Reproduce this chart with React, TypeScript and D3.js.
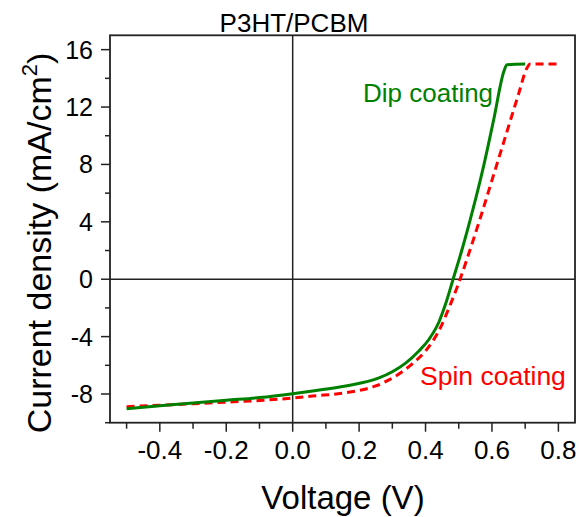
import React from 'react';
import * as d3 from 'd3';

// J-V curves (voltage in V, current density in mA/cm2)
const dipVoltage = [-0.5, -0.4, -0.3, -0.2, -0.1, 0.0, 0.06, 0.16, 0.26, 0.3, 0.34, 0.38, 0.41, 0.44, 0.46, 0.483, 0.509, 0.534, 0.552, 0.575, 0.605, 0.636, 0.645, 0.7];
const dipCurrent = [-9.02, -8.82, -8.62, -8.43, -8.25, -7.98, -7.79, -7.44, -6.88, -6.45, -5.85, -5.0, -4.2, -3.0, -1.75, 0.0, 2.0, 4.1, 5.7, 7.9, 11.1, 14.5, 14.95, 15.0];

const spinVoltage = [-0.5, -0.4, -0.3, -0.2, -0.1, 0.0, 0.06, 0.16, 0.25, 0.31, 0.36, 0.4, 0.44, 0.475, 0.504, 0.529, 0.564, 0.6, 0.64, 0.68, 0.705, 0.715, 0.8];
const spinCurrent = [-8.88, -8.78, -8.68, -8.57, -8.45, -8.28, -8.14, -7.91, -7.44, -6.75, -5.9, -5.0, -3.6, -1.75, 0.0, 1.7, 4.2, 6.9, 9.9, 12.9, 14.7, 15.0, 15.0];

const xMajorTicks = [-0.4, -0.2, 0.0, 0.2, 0.4, 0.6, 0.8];
const xMinorTicks = [-0.5, -0.3, -0.1, 0.1, 0.3, 0.5, 0.7];
const yMajorTicks = [-8, -4, 0, 4, 8, 12, 16];
const yMinorTicks = [-10, -6, -2, 2, 6, 10, 14];

const font = '"Liberation Sans", Arial, sans-serif';
const W = 579;
const H = 517;
const plot = { left: 110, right: 575, top: 35.3, bottom: 422.7 };

export default function App() {
  const x = d3.scaleLinear().domain([-0.55, 0.85]).range([plot.left, plot.right]);
  const y = d3.scaleLinear().domain([-10, 17]).range([plot.bottom, plot.top]);

  const line = d3
    .line<[number, number]>()
    .x((d) => x(d[0]))
    .y((d) => y(d[1]))
    .curve(d3.curveMonotoneX);

  const dip = dipVoltage.map((v, i) => [v, dipCurrent[i]] as [number, number]);
  const spin = spinVoltage.map((v, i) => [v, spinCurrent[i]] as [number, number]);

  const fmtX = (v: number) => v.toFixed(1);

  return (
    <>
      <style>{`body{margin:0}`}</style>
      <svg width={W} height={H} style={{ display: 'block', background: '#fff' }} fontFamily={font}>
        <text x={294} y={32} textAnchor="middle" fontSize={26} fill="#000">
          P3HT/PCBM
        </text>

        {/* zero lines */}
        <line x1={x(0)} x2={x(0)} y1={plot.top} y2={plot.bottom} stroke="#222" strokeWidth={1.5} />
        <line x1={plot.left} x2={plot.right} y1={y(0)} y2={y(0)} stroke="#222" strokeWidth={1.5} />

        {/* curves */}
        <path d={line(spin) ?? ''} fill="none" stroke="#ff0000" strokeWidth={3} strokeDasharray="8,5" />
        <path d={line(dip) ?? ''} fill="none" stroke="#008000" strokeWidth={3} />

        <text x={363} y={101.7} fontSize={26} fill="#008000">Dip coating</text>
        <text x={420} y={385} fontSize={26.5} fill="#ff0000">Spin coating</text>

        {/* frame */}
        <rect
          x={plot.left}
          y={plot.top}
          width={plot.right - plot.left}
          height={plot.bottom - plot.top}
          fill="none"
          stroke="#222"
          strokeWidth={1.8}
        />

        {/* x ticks */}
        {xMajorTicks.map((t) => (
          <g key={'xM' + t}>
            <line x1={x(t)} x2={x(t)} y1={plot.bottom} y2={plot.bottom + 9} stroke="#222" strokeWidth={1.5} />
            <text x={x(t)} y={459} textAnchor="middle" fontSize={26} fill="#000">
              {fmtX(t)}
            </text>
          </g>
        ))}
        {xMinorTicks.map((t) => (
          <line key={'xm' + t} x1={x(t)} x2={x(t)} y1={plot.bottom} y2={plot.bottom + 6} stroke="#222" strokeWidth={1.5} />
        ))}

        {/* y ticks */}
        {yMajorTicks.map((t) => (
          <g key={'yM' + t}>
            <line x1={plot.left - 9} x2={plot.left} y1={y(t)} y2={y(t)} stroke="#222" strokeWidth={1.5} />
            <text x={93} y={y(t)} dy="0.36em" textAnchor="end" fontSize={25} fill="#000">
              {t}
            </text>
          </g>
        ))}
        {yMinorTicks.map((t) => (
          <line key={'ym' + t} x1={plot.left - 5} x2={plot.left} y1={y(t)} y2={y(t)} stroke="#222" strokeWidth={1.5} />
        ))}

        {/* axis titles */}
        <text x={343} y={509} textAnchor="middle" fontSize={33} fill="#000">
          Voltage (V)
        </text>
        <text transform="translate(51,243) rotate(-90)" textAnchor="middle" fontSize={34} fill="#000">
          Current density (mA/cm<tspan fontSize={22} dy={-14}>2</tspan><tspan dy={14}>)</tspan>
        </text>
      </svg>
    </>
  );
}
